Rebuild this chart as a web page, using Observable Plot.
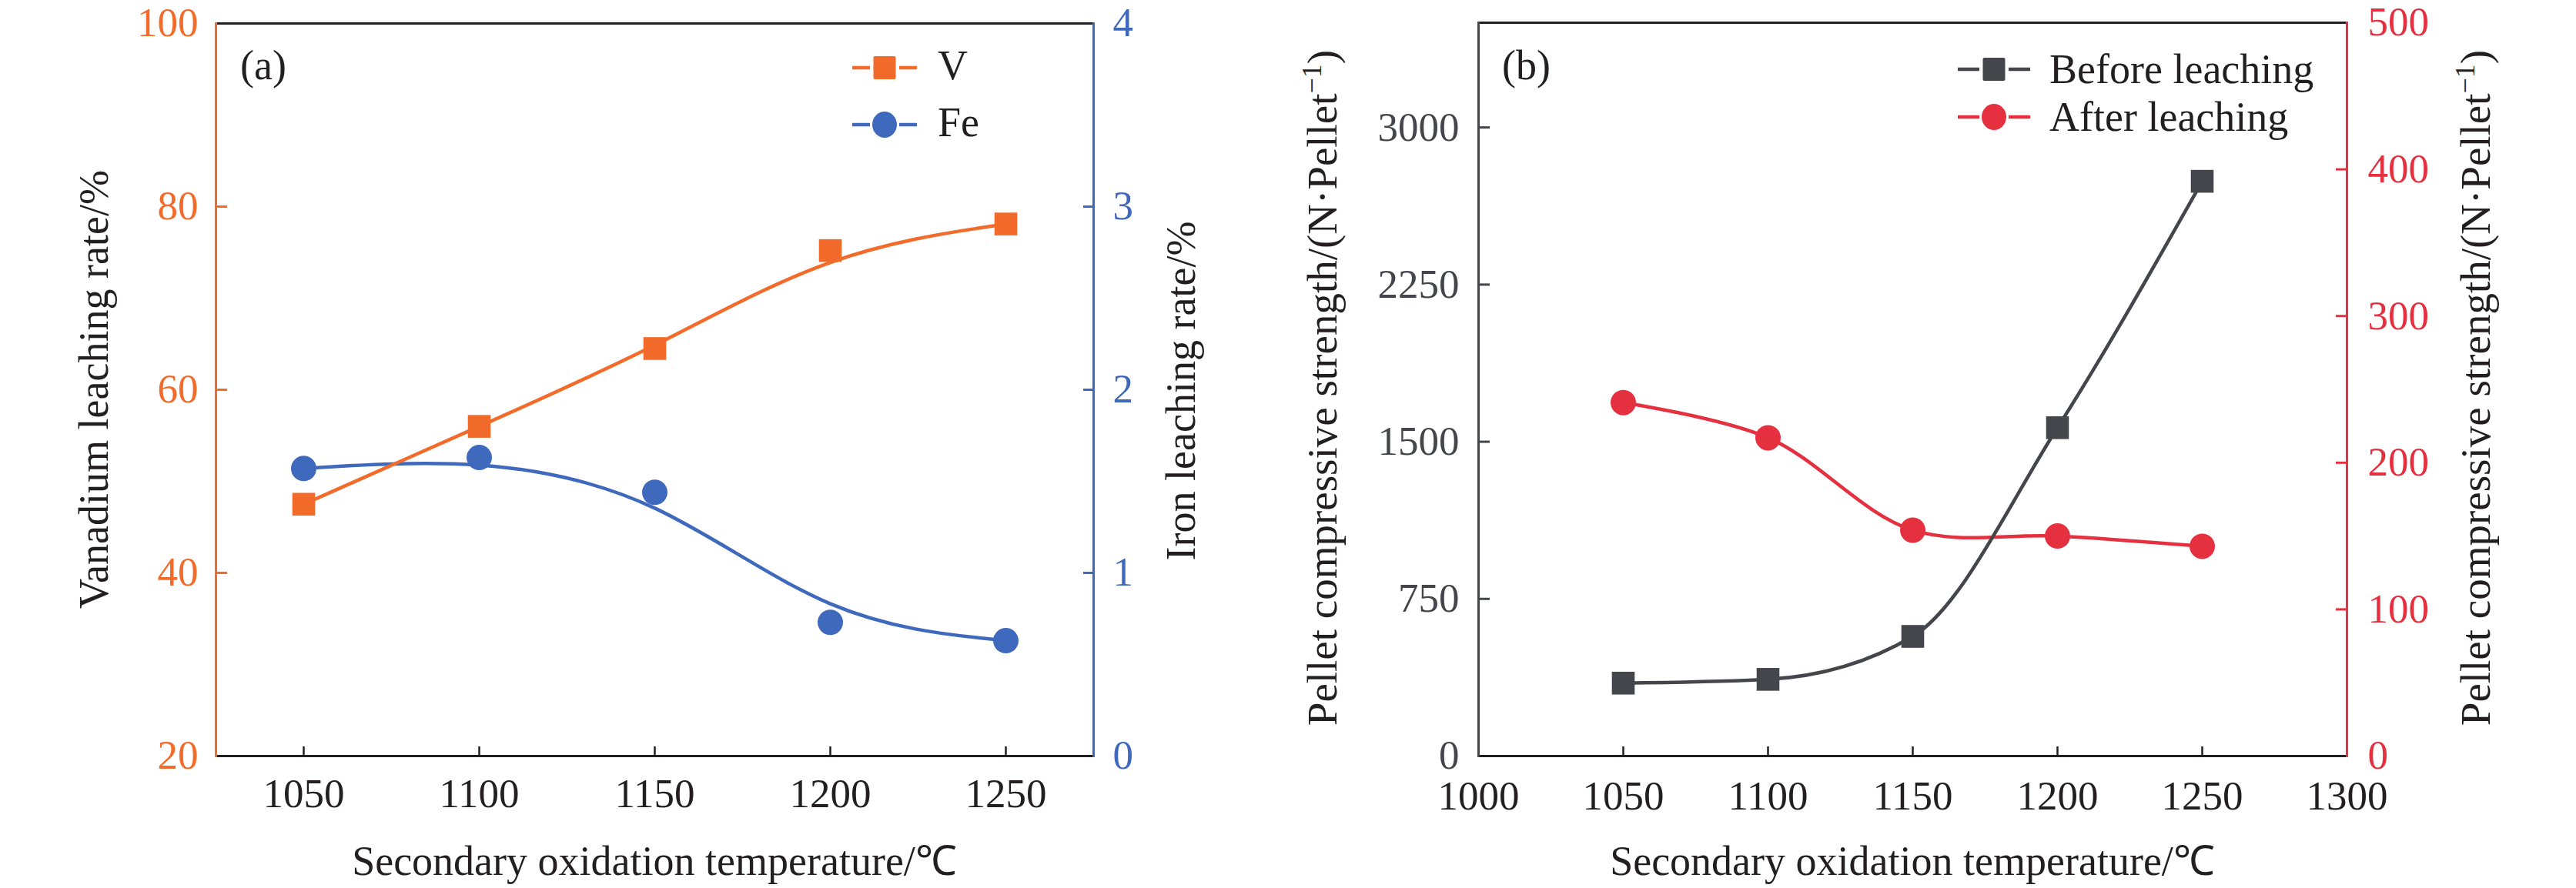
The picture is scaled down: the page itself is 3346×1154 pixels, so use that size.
<!DOCTYPE html>
<html><head><meta charset="utf-8">
<script src="https://cdn.jsdelivr.net/npm/d3@7"></script>
<script src="https://cdn.jsdelivr.net/npm/@observablehq/plot@0.6"></script>
<style>
body{margin:0;background:#fff;}
#wrap{display:flex;width:3346px;height:1154px;background:#fff;}
svg text{font-family:"Liberation Serif","Times New Roman",serif;}
</style></head><body><div id="wrap"></div>
<script>
// ---- data ----
const temps = [1050, 1100, 1150, 1200, 1250];
const vanadium = [47.5, 56.0, 64.5, 75.2, 78.1];      // %
const iron = [1.57, 1.63, 1.44, 0.73, 0.63];          // %
const beforeLeach = [348, 366, 571, 1567, 2743];      // N/pellet
const afterLeach = [241, 217, 154, 150, 143];         // N/pellet
const xTicksA = [1050, 1100, 1150, 1200, 1250];
const vTicks = [20, 40, 60, 80, 100];
const feTicks = [0, 1, 2, 3, 4];
const xTicksB = [1000, 1050, 1100, 1150, 1200, 1250, 1300];
const leftTicksB = [0, 750, 1500, 2250, 3000];
const rightTicksB = [0, 100, 200, 300, 400, 500];

const FONT = "Liberation Serif";
const ORANGE = "#f26b2a", BLUE = "#3f69bd", GRAY = "#45464c", RED = "#e5303f", INK = "#231f20";
const feToV = f => 20 + f * 20;        // iron axis 0..4 -> vanadium axis 20..100
const afterToB = a => a * 7;           // right axis 0..500 -> left axis 0..3500

const va = temps.map((t, i) => ({t, v: vanadium[i]}));
const fe = temps.map((t, i) => ({t, f: iron[i]}));
const bl = temps.map((t, i) => ({t, s: beforeLeach[i]}));
const al = temps.map((t, i) => ({t, s: afterLeach[i]}));

const style = {fontFamily: FONT, fontSize: "53px", background: "transparent", overflow: "visible"};

const chartA = Plot.plot({
  width: 1650, height: 1154, marginLeft: 280, marginRight: 230, marginTop: 30, marginBottom: 172,
  style,
  x: {domain: [1025, 1275]},
  y: {domain: [20, 100]},
  marks: [
    Plot.axisX({ticks: xTicksA, tickSize: -12, tickPadding: 41, tickFormat: d => String(d), label: null, color: INK, strokeWidth: 2.5}),
    Plot.axisY({anchor: "left", ticks: vTicks, tickSize: -15, tickPadding: 38, tickFormat: d => String(d), label: null, color: ORANGE, strokeWidth: 3}),
    Plot.axisY({anchor: "right", ticks: feTicks.map(feToV), tickSize: -14, tickPadding: 39, tickFormat: v => String(Math.round((v - 20) / 20)), label: null, color: BLUE, strokeWidth: 3}),
    Plot.frame({anchor: "top", stroke: INK, strokeWidth: 3}),
    Plot.frame({anchor: "bottom", stroke: INK, strokeWidth: 3}),
    Plot.frame({anchor: "left", stroke: ORANGE, strokeWidth: 3}),
    Plot.frame({anchor: "right", stroke: BLUE, strokeWidth: 3}),
    Plot.line(fe, {x: "t", y: d => feToV(d.f), curve: "basis", stroke: BLUE, strokeWidth: 4.5}),
    Plot.line(va, {x: "t", y: "v", curve: "basis", stroke: ORANGE, strokeWidth: 4.5}),
    Plot.dot(fe, {x: "t", y: d => feToV(d.f), r: 16.5, fill: BLUE, stroke: "none"}),
    Plot.dot(va, {x: "t", y: "v", symbol: "square", r: 16.7, fill: ORANGE, stroke: "none"})
  ]
});

const chartB = Plot.plot({
  width: 1696, height: 1154, marginLeft: 270, marginRight: 298, marginTop: 29, marginBottom: 172,
  style,
  x: {domain: [1000, 1300]},
  y: {domain: [0, 3500]},
  marks: [
    Plot.axisX({ticks: xTicksB, tickSize: -12, tickPadding: 44, tickFormat: d => String(d), label: null, color: INK, strokeWidth: 2.5}),
    Plot.axisY({anchor: "left", ticks: leftTicksB, tickSize: -15, tickPadding: 40, tickFormat: d => String(d), label: null, color: GRAY, strokeWidth: 3}),
    Plot.axisY({anchor: "right", ticks: rightTicksB.map(afterToB), tickSize: -15, tickPadding: 42, tickFormat: v => String(Math.round(v / 7)), label: null, color: RED, strokeWidth: 3}),
    Plot.frame({anchor: "top", stroke: INK, strokeWidth: 3}),
    Plot.frame({anchor: "bottom", stroke: INK, strokeWidth: 3}),
    Plot.frame({anchor: "left", stroke: GRAY, strokeWidth: 3}),
    Plot.frame({anchor: "right", stroke: RED, strokeWidth: 3}),
    Plot.line(al, {x: "t", y: d => afterToB(d.s), curve: "catmull-rom", stroke: RED, strokeWidth: 4.5}),
    Plot.line(bl, {x: "t", y: "s", curve: "monotone-x", stroke: GRAY, strokeWidth: 4.5}),
    Plot.dot(al, {x: "t", y: d => afterToB(d.s), r: 16.5, fill: RED, stroke: "none"}),
    Plot.dot(bl, {x: "t", y: "s", symbol: "square", r: 16.7, fill: GRAY, stroke: "none"})
  ]
});

// ---- texts & legends ----
function txt(svg, x, y, s, opt = {}) {
  const t = d3.select(svg).append("text")
    .attr("x", x).attr("y", y)
    .attr("font-family", FONT).attr("font-size", opt.size || 54)
    .attr("fill", opt.fill || INK)
    .attr("text-anchor", opt.anchor || "start");
  if (opt.rotate) t.attr("transform", `rotate(${opt.rotate},${x},${y})`);
  if (s !== null) t.text(s);
  return t;
}
function legendRow(svg, x0, x1, y, color, symbol, label, tx, ty) {
  const g = d3.select(svg).append("g");
  const xm = (x0 + x1) / 2;
  g.append("line").attr("x1", x0).attr("x2", xm - 19).attr("y1", y).attr("y2", y)
    .attr("stroke", color).attr("stroke-width", 4.5);
  g.append("line").attr("x1", xm + 19).attr("x2", x1).attr("y1", y).attr("y2", y)
    .attr("stroke", color).attr("stroke-width", 4.5);
  if (symbol === "square") g.append("rect").attr("x", xm - 14.5).attr("y", y - 15).attr("width", 29).attr("height", 30).attr("rx", 2).attr("fill", color);
  else g.append("ellipse").attr("cx", xm).attr("cy", y).attr("rx", 16).attr("ry", 17).attr("fill", color);
  txt(svg, tx, ty, label);
}
function strengthLabel(svg, x, y) {
  const t = txt(svg, x, y, null, {anchor: "middle", rotate: -90, size: 55});
  t.append("tspan").text("Pellet compressive strength/(N·Pellet");
  t.append("tspan").attr("dy", -20).attr("font-size", 36).text("−1");
  t.append("tspan").attr("dy", 20).text(")");
}

// panel (a)
txt(chartA, 312, 103, "(a)");
txt(chartA, 850, 1137, "Secondary oxidation temperature/℃", {anchor: "middle"});
txt(chartA, 140, 506, "Vanadium leaching rate/%", {anchor: "middle", rotate: -90});
txt(chartA, 1552, 508, "Iron leaching rate/%", {anchor: "middle", rotate: -90});
legendRow(chartA, 1107, 1191, 88, ORANGE, "square", "V", 1218, 103);
legendRow(chartA, 1107, 1191, 162, BLUE, "circle", "Fe", 1218, 177);

// panel (b) (offset 1650)
const ox = 1650;
txt(chartB, 1951 - ox, 103, "(b)");
txt(chartB, 2484 - ox, 1137, "Secondary oxidation temperature/℃", {anchor: "middle"});
strengthLabel(chartB, 1736 - ox, 504);
strengthLabel(chartB, 3234 - ox, 504);
legendRow(chartB, 2543 - ox, 2637 - ox, 90, GRAY, "square", "Before leaching", 2662 - ox, 108);
legendRow(chartB, 2543 - ox, 2637 - ox, 152, RED, "circle", "After leaching", 2662 - ox, 170);

document.getElementById("wrap").append(chartA, chartB);
</script></body></html>
